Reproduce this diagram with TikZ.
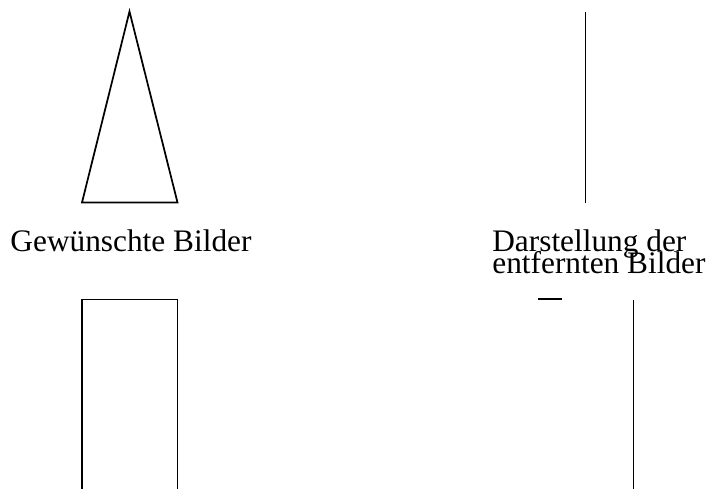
\documentclass[tikz,border=0pt]{standalone}
\usepackage{fontspec}
\setmainfont{Liberation Serif}
\begin{document}
\begin{tikzpicture}[x=0.75pt, y=-0.75pt, line width=1.3pt,
    label/.style={inner sep=0pt,
      font={\fontsize{23.5}{16.1}\selectfont\lineskiplimit -100pt\relax}}]
    \useasboundingbox (0,0) rectangle (710,489);

    % Triangle coordinates
    \coordinate (Apex) at (129.5, 11.5);
    \coordinate (LeftBase) at (82, 202.5);
    \coordinate (RightBase) at (177.5, 202.5);

    % Triangle
    \draw[line join=miter] (LeftBase) -- (Apex) -- (RightBase) -- cycle;

    % Seen from far away: a single stroke
    \coordinate (FarTop) at (585.5, 11.5);
    \coordinate (FarBottom) at (585.5, 202.5);
    \draw (FarTop) -- (FarBottom);

    % Labels
    \node[label, anchor=base] (wanted) at (131, 251) {Gewünschte Bilder};
    \node[label, anchor=base west, align=left] (distant) at (491.5, 273)
        {Darstellung der\\entfernten Bilder};

    % Open rectangle
    \coordinate (RectTopLeft) at (82, 299.5);
    \coordinate (RectTopRight) at (177.5, 299.5);
    \draw (82, 489) -- (RectTopLeft) -- (RectTopRight) -- (177.5, 489);

    % Seen from far away: a short dash and a stroke
    \coordinate (DashLeft) at (538, 299);
    \coordinate (DashRight) at (562, 299);
    \draw (DashLeft) -- (DashRight);
    \coordinate (PostTop) at (633.5, 300);
    \draw (PostTop) -- (633.5, 489);
\end{tikzpicture}
\end{document}
